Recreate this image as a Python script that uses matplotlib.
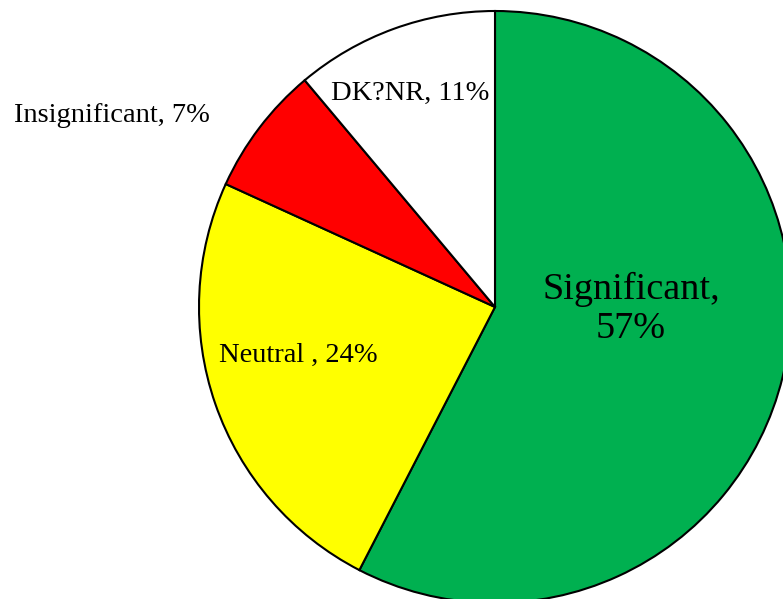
import matplotlib
matplotlib.use("Agg")
import matplotlib.pyplot as plt

# Survey response shares (percent)
categories = ["Significant", "Neutral ", "Insignificant", "DK?NR"]
shares = [57, 24, 7, 11]
colors = ["#00B050", "#FFFF00", "#FF0000", "#FFFFFF"]

W, H = 783, 599
fig = plt.figure(figsize=(W / 100, H / 100), dpi=100)
ax = fig.add_axes([0, 0, 1, 1])

ax.pie(shares, colors=colors, startangle=90, counterclock=False,
       center=(495, 292), radius=296,
       wedgeprops=dict(edgecolor="black", linewidth=1.5))
ax.set_xlim(0, W)
ax.set_ylim(0, H)
ax.set_aspect("equal")
ax.axis("off")

font = ["Liberation Serif", "DejaVu Serif"]
labels = [f"{c}, {v}%" for c, v in zip(categories, shares)]

# Large label inside the dominant wedge
ax.text(631, 290, f"{categories[0]},\n{shares[0]}%", ha="center", va="center",
        fontsize=27.5, family=font, linespacing=1.2)
ax.text(298, 244, labels[1], ha="center", va="center", fontsize=20.5, family=font)
ax.text(112, 484, labels[2], ha="center", va="center", fontsize=20.5, family=font)
ax.text(410, 506, labels[3], ha="center", va="center", fontsize=20.5, family=font)

fig.savefig("out.png", dpi=100)
